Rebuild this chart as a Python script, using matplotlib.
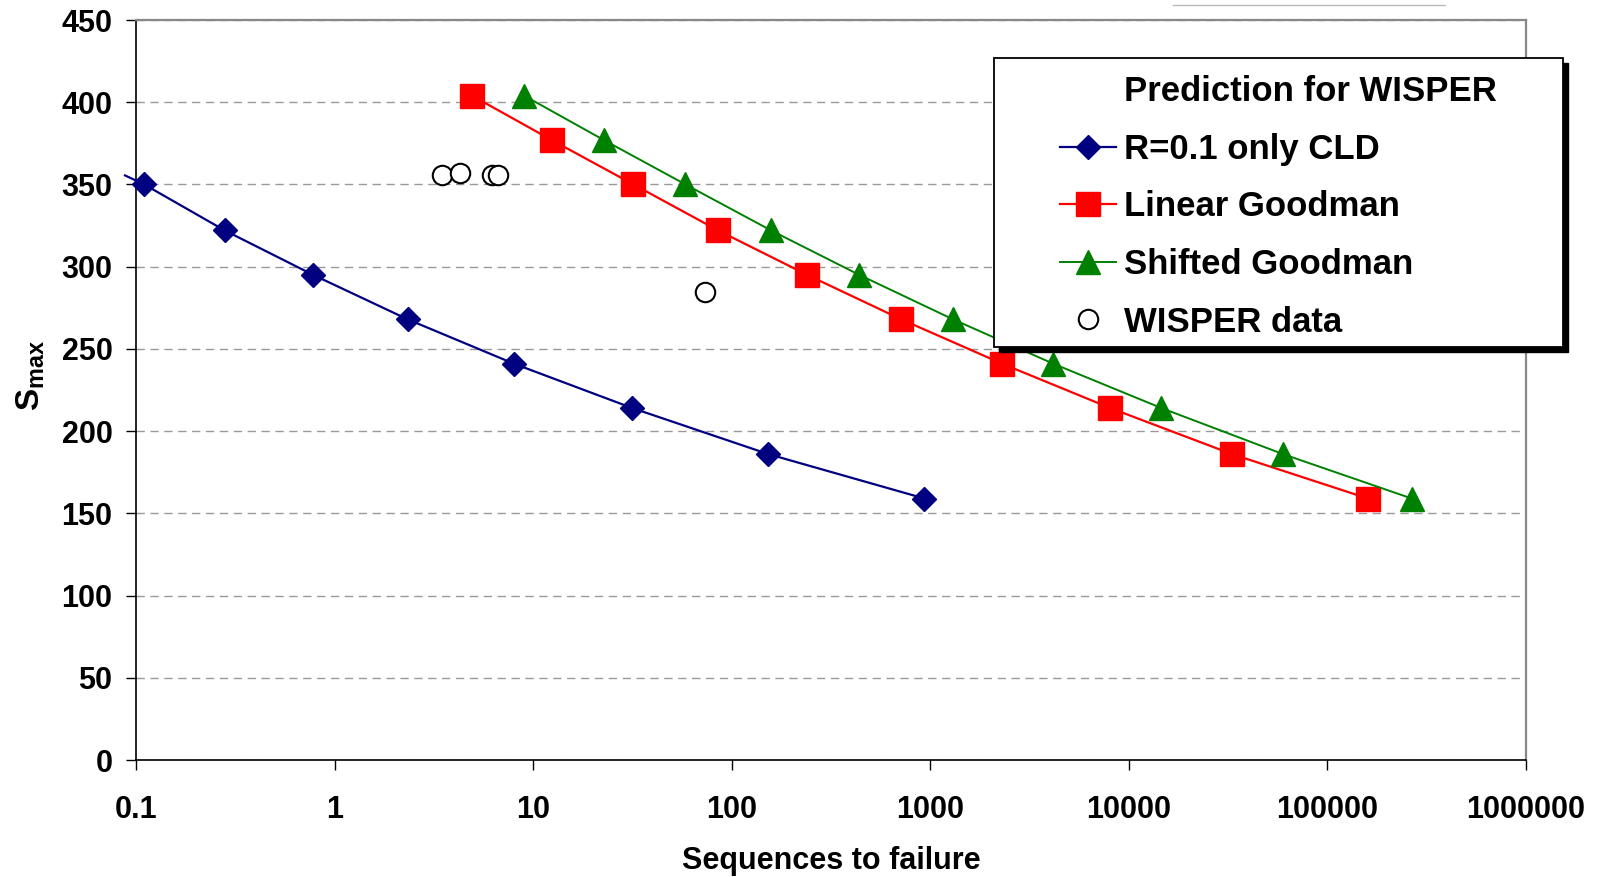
import matplotlib
matplotlib.use("Agg")
import matplotlib.pyplot as plt
from matplotlib.lines import Line2D
from matplotlib.patches import Rectangle

plt.rcParams['font.family'] = ['Liberation Sans', 'DejaVu Sans']
plt.rcParams['font.weight'] = 'bold'
plt.rcParams['mathtext.fontset'] = 'custom'
plt.rcParams['mathtext.rm'] = 'Liberation Sans:bold'
plt.rcParams['mathtext.bf'] = 'Liberation Sans:bold'

# R=0.1 only CLD (first point is where the line runs past the left axis)
cld_n = [0.088, 0.11, 0.28, 0.78, 2.33, 8.0, 31.6, 153, 935]
cld_s = [355.5, 350, 322, 295, 268, 241, 214, 186, 159]

# Linear Goodman
lin_n = [4.92, 12.4, 32.0, 85.5, 240, 713, 2300, 8070, 33100, 160000]
lin_s = [404, 377, 350, 322, 295, 268, 241, 214, 186, 159]

# Shifted Goodman
shf_n = [9.0, 22.7, 58.5, 158, 439, 1300, 4160, 14600, 59800, 266000]
shf_s = [404, 377, 350, 322, 295, 268, 241, 214, 186, 159]

# WISPER data
wsp_n = [3.49, 4.27, 6.24, 6.62, 73.3]
wsp_s = [355.5, 356.7, 355.5, 355.5, 284.6]

x_ticks = [0.1, 1, 10, 100, 1000, 10000, 100000, 1000000]
x_labels = ["0.1", "1", "10", "100", "1000", "10000", "100000", "1000000"]
y_ticks = list(range(0, 451, 50))

W, H = 1602, 877
fig = plt.figure(figsize=(W / 100, H / 100), dpi=100)
ax = fig.add_axes([136 / W, 1 - 760 / H, (1526 - 136) / W, (760 - 20) / H])

navy = "#000080"
ax.plot(cld_n, cld_s, color=navy, lw=1.6, marker="D", ms=12,
        markevery=list(range(1, len(cld_n))), clip_on=False, zorder=4)
ax.plot(lin_n, lin_s, color="#ff0000", lw=1.6, marker="s", ms=17,
        clip_on=False, zorder=4)
ax.plot(shf_n, shf_s, color="#008000", lw=1.4, marker="^", ms=17,
        clip_on=False, zorder=4)
ax.plot(wsp_n, wsp_s, ls="none", marker="o", ms=14, mfc="white",
        mec="black", mew=1.5, zorder=5)

ax.set_xscale("log")
ax.set_xlim(0.1, 1000000)
ax.set_ylim(0, 450)
ax.set_xticks(x_ticks)
ax.set_xticklabels(x_labels)
ax.minorticks_off()
ax.set_yticks(y_ticks)

ax.tick_params(axis="both", labelsize=22, direction="out", length=7,
               width=1, color="black")
ax.tick_params(axis="y", pad=10)
ax.tick_params(axis="x", pad=18)

ax.grid(axis="y", color="#999999", lw=1, ls=(0, (6, 4)))
for side in ["left", "bottom"]:
    ax.spines[side].set_color("black")
    ax.spines[side].set_linewidth(1.2)
for side in ["top", "right"]:
    ax.spines[side].set_color("#888888")
    ax.spines[side].set_linewidth(1.6)

ax.set_xlabel("Sequences to failure", fontsize=22, fontweight="bold")
ax.xaxis.set_label_coords(0.5, -0.116)
ax.set_ylabel(r"$\mathbf{S_{max}}$", fontsize=24)
ax.yaxis.set_label_coords(-0.064, 0.52)

# legend box with shadow
bx0, bx1, by0, by1 = 994, 1563, 58, 347
shadow = Rectangle(((bx0 + 5) / W, 1 - (by1 + 5) / H), (bx1 - bx0) / W,
                   (by1 - by0) / H, transform=fig.transFigure,
                   facecolor="black", edgecolor="black", zorder=10)
box = Rectangle((bx0 / W, 1 - by1 / H), (bx1 - bx0) / W, (by1 - by0) / H,
                transform=fig.transFigure, facecolor="white",
                edgecolor="black", lw=1.3, zorder=11)
fig.add_artist(shadow)
fig.add_artist(box)

handles = [
    Line2D([], [], ls="none"),
    Line2D([], [], color=navy, lw=1.6, marker="D", ms=12),
    Line2D([], [], color="#ff0000", lw=1.6, marker="s", ms=17),
    Line2D([], [], color="#008000", lw=1.4, marker="^", ms=17),
    Line2D([], [], ls="none", marker="o", ms=14, mfc="white", mec="black",
           mew=1.5),
]
labels = ["Prediction for WISPER", "R=0.1 only CLD", "Linear Goodman",
          "Shifted Goodman", "WISPER data"]
leg = fig.legend(handles, labels, loc="upper left",
                 bbox_to_anchor=(1060 / W, 1 - 75 / H), frameon=False,
                 prop={"size": 25, "weight": "bold"}, handlelength=1.6,
                 handletextpad=0.23, labelspacing=0.71, borderpad=0,
                 borderaxespad=0)
leg.set_zorder(12)

# faint line at the top edge of the picture
fig.add_artist(Line2D([1173 / W, 1445 / W], [1 - 5 / H, 1 - 5 / H],
                      transform=fig.transFigure, color="#bbbbbb", lw=1))

fig.savefig("out.png", dpi=100)
